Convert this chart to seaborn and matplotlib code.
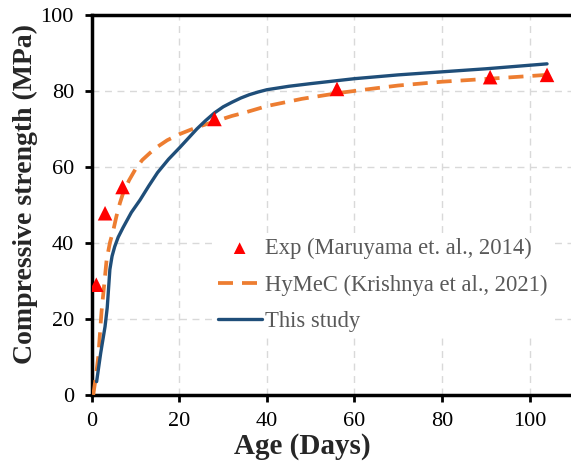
import pandas as pd
import matplotlib
matplotlib.use('Agg')
import matplotlib.pyplot as plt
import seaborn as sns

sns.set_style('ticks')
plt.rcParams['font.family'] = ['Liberation Serif', 'DejaVu Serif']

# experimental data (Maruyama et al., 2014)
exp_age = [1, 3, 7, 28, 56, 91, 104]
exp_fc = [29.0, 47.8, 54.7, 72.6, 80.5, 83.6, 84.2]

# HyMeC curve (Krishnya et al., 2021)
hymec_age = [0.3, 0.8, 1.45, 2.2, 2.8, 3.35, 4.1, 4.9, 5.6, 6.4, 7.1, 8.5, 10, 11.5, 13.3, 15,
             17.2, 20, 22.4, 25, 27.7, 32, 35, 40, 48, 56.8, 65, 70, 80, 91, 104]
hymec_fc = [0.0, 4.0, 10.0, 22.0, 29.0, 35.5, 40.0, 43.4, 47.0, 50.5, 53.0, 56.5, 59.5, 61.8, 63.7, 65.3,
            67.0, 68.6, 69.7, 70.8, 71.8, 73.4, 74.3, 76.0, 77.9, 79.5, 80.7, 81.4, 82.4, 83.2, 84.2]

# this study
study_age = [1.07, 2.0, 3.0, 3.5, 3.8, 4.1, 4.6, 5.2, 6.0, 7.1, 9, 11, 13, 15, 17.5, 20, 22, 24, 26, 28,
             30, 32, 34, 36, 38, 40, 45, 50, 60, 70, 80, 90, 104]
study_fc = [3.5, 11.0, 18.0, 23.0, 28.0, 33.0, 36.5, 39.0, 41.5, 44.0, 48.0, 51.3, 55.0, 58.5, 62.0, 65.0,
            67.5, 70.0, 72.2, 74.2, 75.8, 77.0, 78.1, 79.0, 79.7, 80.3, 81.2, 81.9, 83.2, 84.2, 85.0, 85.8, 87.1]

df_exp = pd.DataFrame({'age': exp_age, 'fc': exp_fc})
df_hy = pd.DataFrame({'age': hymec_age, 'fc': hymec_fc})
df_st = pd.DataFrame({'age': study_age, 'fc': study_fc})

fig = plt.figure(figsize=(5.71, 4.63), dpi=100)
ax = fig.add_axes([0.161, 0.147, 0.843, 0.821])

sns.scatterplot(data=df_exp, x='age', y='fc', ax=ax, marker='^', s=110, color='#ff0000',
                edgecolor='none', label='Exp (Maruyama et. al., 2014)', zorder=4)
sns.lineplot(data=df_hy, x='age', y='fc', ax=ax, color='#ed7d31', lw=2.7,
             label='HyMeC (Krishnya et al., 2021)', zorder=3)
sns.lineplot(data=df_st, x='age', y='fc', ax=ax, color='#1f4e79', lw=2.4,
             label='This study', zorder=3)
ax.lines[0].set_dashes([4, 2.4])
ax.lines[0].set_solid_capstyle('butt')

ax.set_xlim(0, 110)
ax.set_ylim(0, 100)
ax.set_xticks([0, 20, 40, 60, 80, 100])
ax.set_yticks([0, 20, 40, 60, 80, 100])
ax.grid(True, ls=(0, (5, 4)), color='#d9d9d9', lw=1)
ax.set_axisbelow(True)

for s in ['left', 'bottom', 'top', 'right']:
    ax.spines[s].set_linewidth(2.5)
    ax.spines[s].set_color('black')
ax.tick_params(direction='out', length=5, width=2, labelsize=16, colors='black')
ax.tick_params(axis='y', pad=8)
ax.tick_params(axis='x', pad=7)

ax.set_xlabel('Age (Days)', fontsize=21, fontweight='bold')
ax.set_ylabel('Compressive strength (MPa)', fontsize=20, fontweight='bold')
ax.xaxis.set_label_coords(0.437, -0.1)
ax.yaxis.set_label_coords(-0.112, 0.529)

leg = ax.legend(loc='upper left', bbox_to_anchor=(0.2516, 0.425), fontsize=16.3,
                frameon=True, facecolor='white', edgecolor='none', framealpha=1,
                handlelength=1.95, handletextpad=0.15, labelspacing=0.68, borderpad=0.2,
                borderaxespad=0, markerscale=0.8)
for t in leg.get_texts():
    t.set_color('#595959')

fig.savefig('out.png', dpi=100)
